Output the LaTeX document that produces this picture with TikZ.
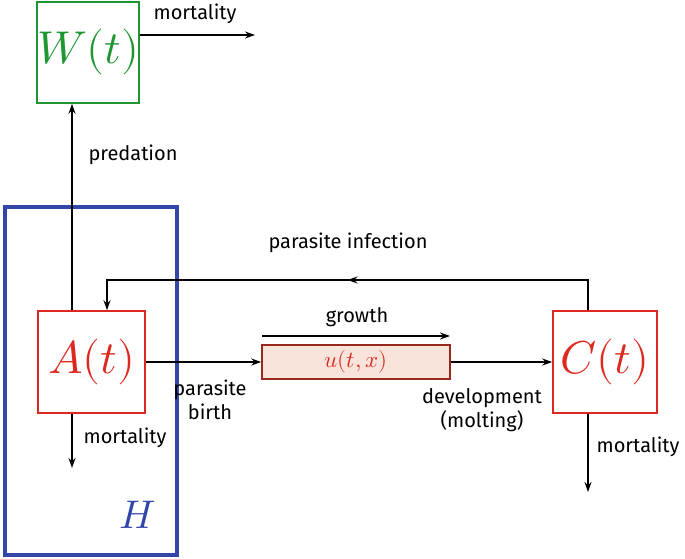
\documentclass[tikz,border=0pt]{standalone}
\usepackage{fontspec}
\setmainfont{Fira Sans}
\usepackage{unicode-math}
\setmathfont{Latin Modern Math}
\usetikzlibrary{arrows.meta,decorations.markings}
\definecolor{gr}{RGB}{30,150,50}
\definecolor{rd}{RGB}{220,40,30}
\definecolor{bl}{RGB}{50,70,170}
\definecolor{br}{RGB}{150,40,30}
\definecolor{pk}{RGB}{248,228,218}
\begin{document}
\begin{tikzpicture}[x=1pt,y=-1pt,
  arr/.style={-{Stealth[length=10pt,width=7pt]},line width=1.6pt},
  lbl/.style={font=\fontsize{20}{24}\selectfont,align=center},
  big/.style={font=\fontsize{46}{50}\selectfont},
  box/.style={color=#1,draw,line width=1.6pt,inner sep=0pt}]
\useasboundingbox (0,0) rectangle (685,559);
\draw[bl,line width=3.5pt] (5,207) rectangle (177,555);
\node[bl,font=\fontsize{40}{44}\selectfont] (H) at (138,515) {$H$};
\node[box=gr,big,minimum width=100pt,minimum height=101pt] (W) at (88,52.5) {$W(t)$};
\node[box=rd,big,minimum width=107pt,minimum height=102pt] (A) at (91.5,362) {$A(t)$};
\node[box=rd,big,minimum width=104pt,minimum height=102pt] (C) at (605,362) {$C(t)$};
\node[box=br,fill=pk,minimum width=188pt,minimum height=34pt,font=\fontsize{23}{26}\selectfont] (u) at (356,362) {\textcolor{rd}{$u(t,x)$}};
\coordinate (wm) at (255,35);
\coordinate (am) at (72,468);
\coordinate (cm) at (588,492);
\coordinate (g1) at (262,336);
\coordinate (g2) at (450,336);
\draw[arr] (W.east|-wm) -- (wm);
\node[lbl] (l1) at (195,14) {mortality};
\draw[arr] (A.north-|72,0) -- (W.south-|72,0);
\node[lbl] (l2) at (133,155) {predation};
\draw[arr] (A.south-|am) -- (am);
\node[lbl] (l3) at (125,438) {mortality};
\draw[arr] (A.east) -- (u.west);
\node[lbl] (l4) at (210,400) {parasite\\birth};
\draw[arr] (g1) -- (g2);
\node[lbl] (l5) at (357,317) {growth};
\draw[arr] (u.east) -- (C.west);
\node[lbl] (l6) at (482,410) {development\\(molting)};
\draw[arr] (C.south-|cm) -- (cm);
\node[lbl] (l7) at (638,447) {mortality};
\draw[arr,postaction={decorate},decoration={markings,mark=at position 0.5 with {\arrow{Stealth[length=10pt,width=7pt]}}}]
  (C.north-|588,0) |- (107,280) -- (A.north-|107,0);
\node[lbl] (l8) at (348,243) {parasite infection};
\end{tikzpicture}
\end{document}
